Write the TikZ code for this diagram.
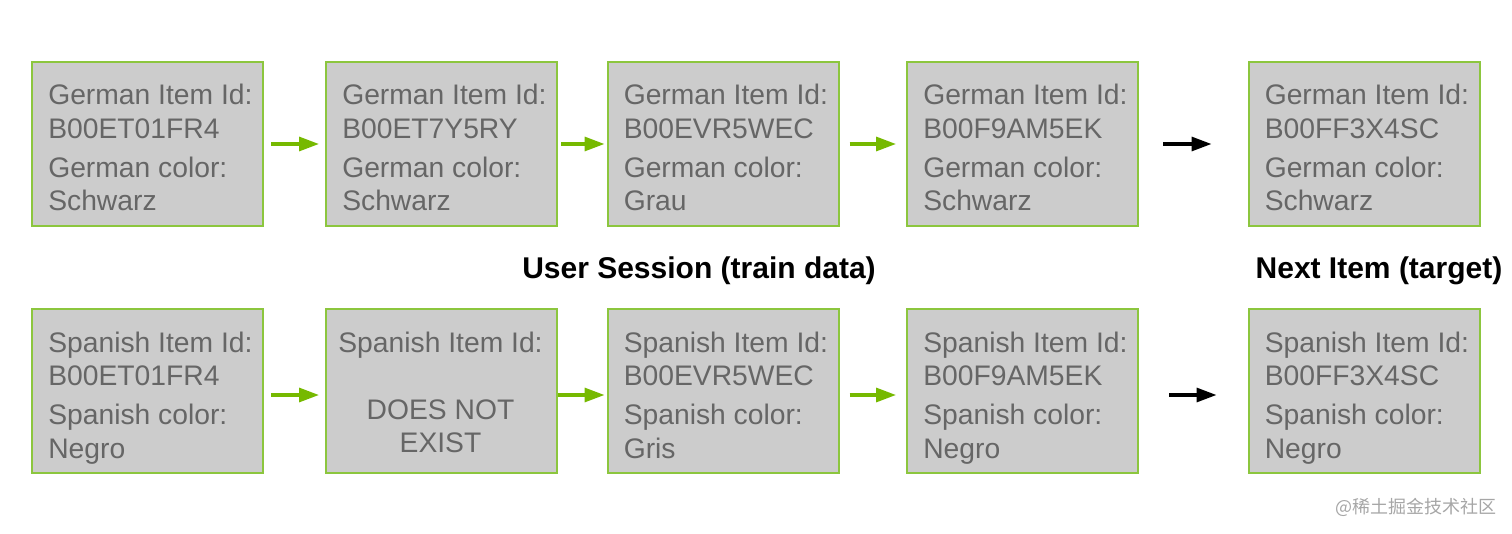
\documentclass[tikz,border=0pt]{standalone}
\usepackage{fontspec}
\setmainfont{Liberation Sans}
\newfontfamily\cjk{Noto Sans CJK SC}
\usetikzlibrary{arrows.meta,calc}
\definecolor{boxfill}{HTML}{CCCCCC}
\definecolor{boxline}{HTML}{8CC63E}
\definecolor{txtgray}{HTML}{666666}
\definecolor{arrgreen}{HTML}{76B900}
\begin{document}
\begin{tikzpicture}[x=0.75pt,y=-0.75pt,
  itembox/.style={draw=boxline,line width=1.5pt,fill=boxfill,minimum width=173.25pt,minimum height=123pt,inner sep=0pt},
  txt/.style={anchor=base west,inner sep=0pt,text=txtgray,font=\fontsize{21.2pt}{24pt}\selectfont},
  ctxt/.style={anchor=base,inner sep=0pt,text=txtgray,font=\fontsize{21.2pt}{24pt}\selectfont},
  ttl/.style={anchor=base,inner sep=0pt,font=\fontsize{22.5pt}{26pt}\selectfont\bfseries},
  garrow/.style={draw=arrgreen,line width=2.4pt,-{Triangle[length=15pt,width=10.5pt]}},
  karrow/.style={draw=black,line width=2.4pt,-{Triangle[length=15pt,width=10.5pt]}}]
\useasboundingbox (0,0) rectangle (1512,534);
% top row
\node[itembox] (a1) at (147.5,144) {};
\node[itembox] (a2) at (441.5,144) {};
\node[itembox] (a3) at (723,144) {};
\node[itembox] (a4) at (1022.5,144) {};
\node[itembox] (a5) at (1364,144) {};
% bottom row
\node[itembox] (b1) at (147.5,391) {};
\node[itembox] (b2) at (441.5,391) {};
\node[itembox] (b3) at (723,391) {};
\node[itembox] (b4) at (1022.5,391) {};
\node[itembox] (b5) at (1364,391) {};
% top texts
\foreach \n/\id/\col in {a1/B00ET01FR4/Schwarz,a2/B00ET7Y5RY/Schwarz,a3/B00EVR5WEC/Grau,a4/B00F9AM5EK/Schwarz,a5/B00FF3X4SC/Schwarz}{
  \node[txt] (\n t1) at ($(\n.north west)+(17,44)$) {German Item Id:};
  \node[txt] (\n t2) at ($(\n.north west)+(17,77.5)$) {\id};
  \node[txt] (\n t3) at ($(\n.north west)+(17,116.5)$) {German color:};
  \node[txt] (\n t4) at ($(\n.north west)+(17,150)$) {\col};
}
% bottom texts
\foreach \n/\id/\col in {b1/B00ET01FR4/Negro,b3/B00EVR5WEC/Gris,b4/B00F9AM5EK/Negro,b5/B00FF3X4SC/Negro}{
  \node[txt] (\n t1) at ($(\n.north west)+(17,44)$) {Spanish Item Id:};
  \node[txt] (\n t2) at ($(\n.north west)+(17,77.5)$) {\id};
  \node[txt] (\n t3) at ($(\n.north west)+(17,116.5)$) {Spanish color:};
  \node[txt] (\n t4) at ($(\n.north west)+(17,150)$) {\col};
}
\node[ctxt] (b2t1) at ($(b2.north)+(-1,44)$) {Spanish Item Id:};
\node[ctxt] (b2t2) at ($(b2.north)+(-1,111)$) {DOES NOT};
\node[ctxt] (b2t3) at ($(b2.north)+(-1,144)$) {EXIST};
% titles
\node[ttl] (t1) at (699,279) {User Session (train data)};
\node[ttl] (t2) at (1379,279) {Next Item (target)};
% arrows top
\draw[garrow,shorten <=5.25pt,shorten >=4.5pt] (a1.east) -- (a2.west);
\draw[garrow,shorten <=2.25pt,shorten >=1.5pt] (a2.east) -- (a3.west);
\draw[garrow,shorten <=7.5pt,shorten >=7.5pt] (a3.east) -- (a4.west);
\draw[karrow,shorten <=18pt,shorten >=27pt] (a4.east) -- (a5.west);
% arrows bottom
\draw[garrow,shorten <=5.25pt,shorten >=4.5pt] ($(b1.east)+(0,4)$) -- ($(b2.west)+(0,4)$);
\draw[garrow,shorten <=0pt,shorten >=1.5pt] ($(b2.east)+(0,4)$) -- ($(b3.west)+(0,4)$);
\draw[garrow,shorten <=7.5pt,shorten >=7.5pt] ($(b3.east)+(0,4)$) -- ($(b4.west)+(0,4)$);
\draw[karrow,shorten <=22.5pt,shorten >=23.25pt] ($(b4.east)+(0,4)$) -- ($(b5.west)+(0,4)$);
% watermark
\node[anchor=base west,inner sep=0pt,text=black!35,font=\cjk\fontsize{13.5pt}{16pt}\selectfont] (wm) at (1335,513) {@稀土掘金技术社区};
\end{tikzpicture}
\end{document}
